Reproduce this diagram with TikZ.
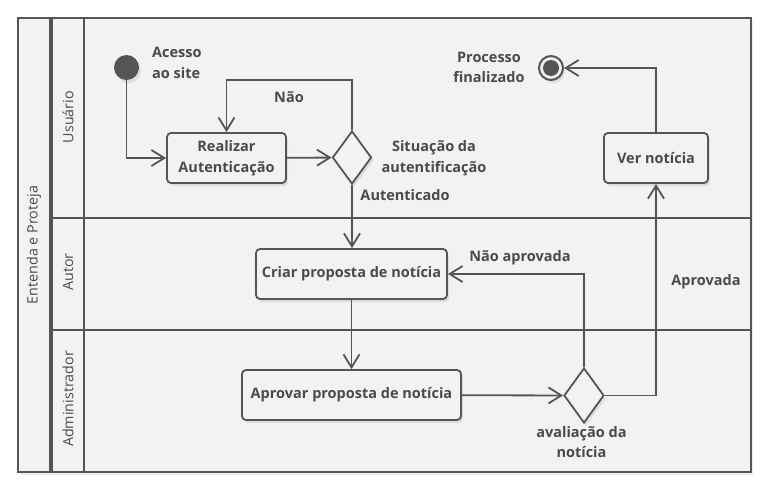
\documentclass[tikz,border=0pt]{standalone}
\usepackage{fontspec}
\setmainfont{Open Sans}
\usetikzlibrary{arrows.meta,shapes.geometric,shadows}
\definecolor{ln}{HTML}{555555}
\definecolor{tx}{HTML}{4A4A4A}
\definecolor{bg}{HTML}{F2F2F2}
\begin{document}
\begin{tikzpicture}[x=1pt,y=-1pt,
  frame/.style={draw=ln,line width=1.6pt},
  lanelbl/.style={rotate=90,text=tx,font=\fontsize{14.3}{17}\selectfont},
  shd/.style={drop shadow={opacity=0.18,shadow xshift=2pt,shadow yshift=-3pt}},
  act/.style={draw=ln,fill=bg,line width=1.8pt,rounded corners=4pt,text=tx,align=center,
    font=\bfseries\fontsize{14.5}{20.5}\selectfont,inner sep=0pt,shd},
  dec/.style={diamond,draw=ln,fill=bg,line width=1.8pt,inner sep=0pt,shd},
  lbl/.style={text=tx,font=\bfseries\fontsize{14.5}{20.5}\selectfont,inner sep=0pt},
  arr/.style={draw=ln,line width=1.8pt,-{Straight Barb[length=13pt,width=16pt,line width=1.8pt]}}]
\useasboundingbox (0,0) rectangle (777,493);
% pool and lanes
\fill[bg,drop shadow={opacity=0.15,shadow xshift=2pt,shadow yshift=-3pt}] (18,18) rectangle (751,472);
\draw[frame] (18,18) rectangle (751,472);
\draw[draw=ln,line width=3.2pt] (51,18) -- (51,472);
\draw[frame] (84,18) -- (84,472);
\draw[frame] (51,218) -- (751,218);
\draw[frame] (51,330) -- (751,330);
\node[lanelbl] (pool) at (34,245) {Entenda e Proteja};
\node[lanelbl] (lu) at (68,117) {Usuário};
\node[lanelbl] (la) at (68,272) {Autor};
\node[lanelbl] (ld) at (68,399) {Administrador};
% nodes
\node[circle,fill=ln,minimum size=25pt,inner sep=0pt,shd] (start) at (126.5,67.5) {};
\node[act,minimum width=119pt,minimum height=50pt] (auth) at (226.5,158) {Realizar\\Autenticação};
\node[dec,minimum width=39pt,minimum height=53pt] (d1) at (352,157.5) {};
\node[act,minimum width=191pt,minimum height=50pt] (criar) at (351.5,274) {Criar proposta de notícia};
\node[act,minimum width=219pt,minimum height=50pt] (aprov) at (351.5,395) {Aprovar proposta de notícia};
\node[dec,minimum width=40pt,minimum height=55pt] (d2) at (584,395.5) {};
\node[act,minimum width=104pt,minimum height=50pt] (ver) at (656,158) {Ver notícia};
\node[circle,draw=ln,line width=2pt,fill=bg,minimum size=24pt,inner sep=0pt,shd] (end) at (551,68) {};
\fill[ln] (end.center) circle (8pt);
% connectors
\coordinate (loop) at (352,80);
\draw[arr] (start) |- (auth);
\draw[arr] (auth) -- (d1);
\draw[arr] (d1.north) -- (loop) -| (auth.north);
\draw[arr] (d1.south) -- (d1.south |- criar.north);
\draw[arr] (criar) -- (aprov);
\draw[arr] (aprov) -- (d2);
\draw[arr] (d2.north) |- (criar.east);
\draw[arr] (d2.east) -| (ver.south);
\draw[arr] (ver.north) |- (end.east);
% labels
\node[lbl,align=left,anchor=west] (acesso) at (152,63) {Acesso\\ao site};
\node[lbl] (nao) at (289,97) {Não};
\node[lbl,align=center] (sit) at (434,158) {Situação da\\autentificação};
\node[lbl] (autent) at (405,195) {Autenticado};
\node[lbl,align=center] (proc) at (489,67.5) {Processo\\finalizado};
\node[lbl] (naoap) at (520,258) {Não aprovada};
\node[lbl] (aprovada) at (706,282) {Aprovada};
\node[lbl,align=center] (aval) at (581.5,442) {avaliação da\\notícia};
\end{tikzpicture}
\end{document}
